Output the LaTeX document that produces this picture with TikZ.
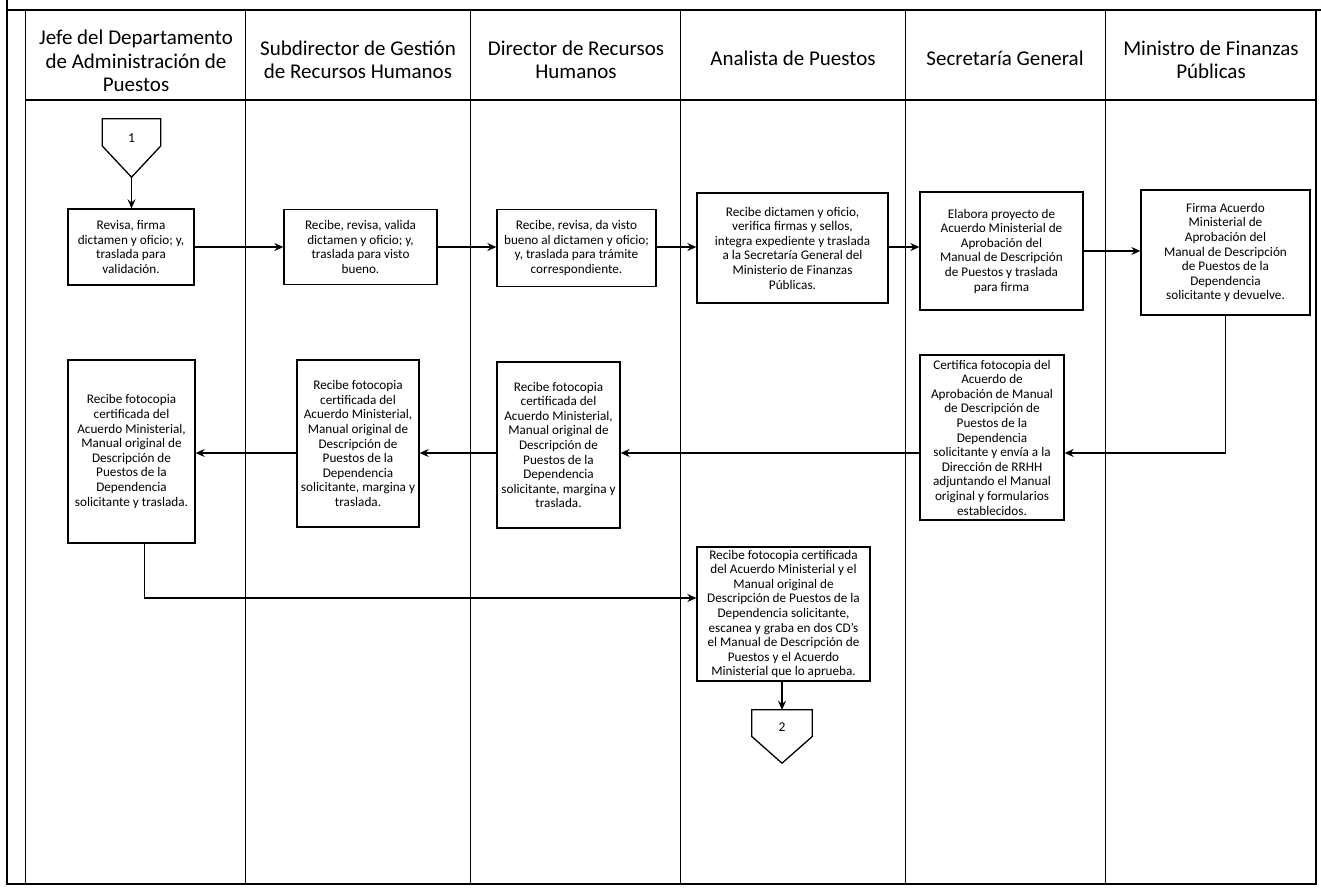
\documentclass[tikz,border=0pt]{standalone}
\usepackage{fontspec}
\setmainfont{Carlito}
\usetikzlibrary{arrows.meta}
\begin{document}
\begin{tikzpicture}[x=1pt,y=-1pt,
  lane/.style={line width=1pt},
  frame/.style={line width=1.4pt},
  head/.style={font=\fontsize{21}{23.5}\selectfont, align=center, inner sep=0pt},
  task/.style={draw, line width=1.3pt, align=center, inner sep=0pt,
               font=\fontsize{13.2}{14.6}\selectfont},
  flow/.style={line width=1.4pt, -{Stealth[length=9pt,width=8pt,inset=3pt]}},
  conn/.style={inner sep=0pt},
  connline/.style={line width=1.3pt},
  conntext/.style={font=\fontsize{13.5}{15}\selectfont, inner sep=0pt},
]
\useasboundingbox (0,0) rectangle (1321,891);

% frame and swimlanes
\draw[frame] (7,0) -- (7,884) -- (1316,884) -- (1316,10);
\draw[frame] (7,10) -- (1321,10);
\foreach \lx in {25,245,470,680,905,1105}
  \draw[lane] (\lx,10) -- (\lx,884);
\draw[line width=2pt] (25,100) -- (1316,100);

% lane headers
\node[head] (h1) at (136,61) {Jefe del Departamento\\de Administración de\\Puestos};
\node[head] (h2) at (358,60) {Subdirector de Gestión\\de Recursos Humanos};
\node[head] (h3) at (576,60) {Director de Recursos\\Humanos};
\node[head] (h4) at (793,58) {Analista de Puestos};
\node[head] (h5) at (1005,58) {Secretaría General};
\node[head] (h6) at (1211,60) {Ministro de Finanzas\\Públicas};

% off-page connector 1
\node[conn, minimum width=58pt, minimum height=58pt] (c1) at (131.5,148) {};
\draw[connline] (c1.north west) -- (c1.north east) -- ([yshift=2pt]c1.east)
  -- (c1.south) -- ([yshift=2pt]c1.west) -- cycle;
\node[conntext, yshift=10pt] (c1t) at (c1) {1};

% first row of tasks
\node[task, minimum width=126pt, minimum height=76pt] (A1) at (131,247)
  {Revisa, firma\\dictamen y oficio; y,\\traslada para\\validación.};
\node[task, minimum width=153pt, minimum height=75pt] (B1) at (360.5,247)
  {Recibe, revisa, valida\\dictamen y oficio; y,\\traslada para visto\\bueno.};
\node[task, minimum width=159pt, minimum height=77pt] (C1) at (576.5,248)
  {Recibe, revisa, da visto\\bueno al dictamen y oficio;\\y, traslada para trámite\\correspondiente.};
\node[task, minimum width=191pt, minimum height=110pt] (D1) at (792.5,248)
  {Recibe dictamen y oficio,\\verifica firmas y sellos,\\integra expediente y traslada\\a la Secretaría General del\\Ministerio de Finanzas\\Públicas.};
\node[task, minimum width=163pt, minimum height=118pt] (E1) at (1001.5,251)
  {Elabora proyecto de\\Acuerdo Ministerial de\\Aprobación del\\Manual de Descripción\\de Puestos y traslada\\para firma};
\node[task, minimum width=169pt, minimum height=125pt] (F1) at (1225.5,252.5)
  {Firma Acuerdo\\Ministerial de\\Aprobación del\\Manual de Descripción\\de Puestos de la\\Dependencia\\solicitante y devuelve.};

% second row of tasks
\node[task, minimum width=127pt, minimum height=183pt] (A2) at (131.5,451.5)
  {Recibe fotocopia\\certificada del\\Acuerdo Ministerial,\\Manual original de\\Descripción de\\Puestos de la\\Dependencia\\solicitante y traslada.};
\node[task, minimum width=122pt, minimum height=167pt] (B2) at (358,443.5)
  {Recibe fotocopia\\certificada del\\Acuerdo Ministerial,\\Manual original de\\Descripción de\\Puestos de la\\Dependencia\\solicitante, margina y\\traslada.};
\node[task, minimum width=123pt, minimum height=166pt] (C2) at (558.5,445)
  {Recibe fotocopia\\certificada del\\Acuerdo Ministerial,\\Manual original de\\Descripción de\\Puestos de la\\Dependencia\\solicitante, margina y\\traslada.};
\node[task, minimum width=144pt, minimum height=165pt] (E2) at (992,437.5)
  {Certifica fotocopia del\\Acuerdo de\\Aprobación de Manual\\de Descripción de\\Puestos de la\\Dependencia\\solicitante y envía a la\\Dirección de RRHH\\adjuntando el Manual\\original y formularios\\establecidos.};

% final task and connector 2
\node[task, minimum width=173pt, minimum height=134pt] (G) at (783.5,614)
  {Recibe fotocopia certificada\\del Acuerdo Ministerial y el\\Manual original de\\Descripción de Puestos de la\\Dependencia solicitante,\\escanea y graba en dos CD’s\\el Manual de Descripción de\\Puestos y el Acuerdo\\Ministerial que lo aprueba.};
\node[conn, minimum width=60pt, minimum height=53pt] (c2) at (782,736.5) {};
\draw[connline] (c2.north west) -- (c2.north east) -- (c2.east)
  -- (c2.south) -- (c2.west) -- cycle;
\node[conntext, yshift=9pt] (c2t) at (c2) {2};

% flow connectors
\coordinate (row2) at (0,453);
\draw[flow] (c1.south) -- (c1.south |- A1.north);
\draw[flow] (A1.east) -- (B1.west |- A1.east);
\draw[flow] (B1.east) -- (C1.west |- B1.east);
\draw[flow] (C1.east |- B1.east) -- (D1.west |- B1.east);
\draw[flow] (D1.east |- B1.east) -- (E1.west |- B1.east);
\draw[flow] (E1.east |- E1.west) -- (F1.west |- E1.west);
\draw[flow] (F1.south) |- (E2.east |- row2);
\draw[flow] (E2.west |- row2) -- (C2.east |- row2);
\draw[flow] (C2.west |- row2) -- (B2.east |- row2);
\draw[flow] (B2.west |- row2) -- (A2.east |- row2);
\draw[flow] ([xshift=13pt]A2.south) |- ([yshift=16pt]G.west);
\draw[flow] (G.south -| c2.north) -- (c2.north);
\end{tikzpicture}
\end{document}
